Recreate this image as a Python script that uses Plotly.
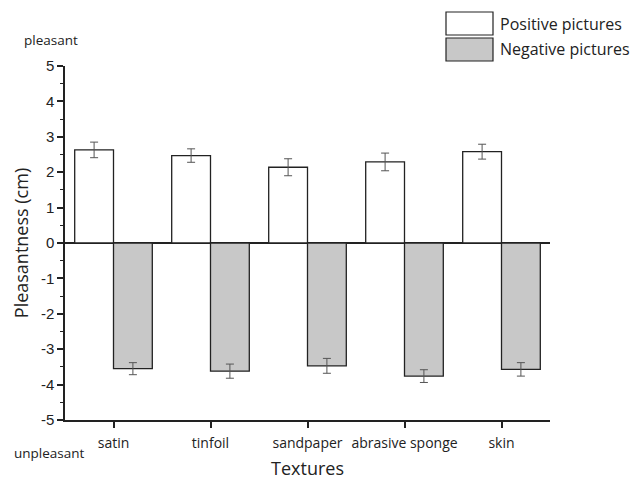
import plotly.graph_objects as go

textures = ["satin", "tinfoil", "sandpaper", "abrasive sponge", "skin"]
positive = [2.63, 2.47, 2.14, 2.29, 2.58]
positive_err = [0.22, 0.19, 0.24, 0.25, 0.21]
negative = [-3.55, -3.62, -3.47, -3.76, -3.57]
negative_err = [0.17, 0.2, 0.21, 0.18, 0.19]
series_names = ["Positive pictures", "Negative pictures"]
colors = ["#ffffff", "#c8c8c8"]
y_tick_vals = [5, 4, 3, 2, 1, 0, -1, -2, -3, -4, -5]
y_tick_text = ["5", "4", "3", "2", "1", "0", "-1", "-2", "-3", "-4", "-5"]

FONT = "Open Sans"
NUMFONT = "Liberation Sans"

fig = go.Figure()
for name, vals, errs, col in [(series_names[0], positive, positive_err, colors[0]),
                              (series_names[1], negative, negative_err, colors[1])]:
    fig.add_trace(go.Bar(
        x=textures, y=vals, name=name,
        marker=dict(color=col, line=dict(color="#222222", width=1.3)),
        error_y=dict(type="data", array=errs, visible=True, color="#555555",
                     thickness=1, width=4),
        showlegend=False,
    ))

fig.update_layout(
    width=644, height=482,
    margin=dict(l=65, r=94, t=66, b=62, autoexpand=False),
    paper_bgcolor="white", plot_bgcolor="white",
    barmode="group", bargap=0.2, bargroupgap=0,
    font=dict(family=FONT, size=14, color="#222222"),
    xaxis=dict(
        range=[-0.5, 4.5], showline=True, linecolor="#222222", linewidth=1.5,
        ticks="outside", ticklen=6, tickwidth=1.5, tickcolor="#222222",
        showgrid=False, zeroline=False, automargin=False,
        tickfont=dict(size=14), ticklabelstandoff=3,
        title=dict(text="Textures", font=dict(size=18), standoff=12),
    ),
    yaxis=dict(
        range=[-5, 5], tickvals=y_tick_vals, ticktext=y_tick_text,
        showline=True, linecolor="#222222", linewidth=1.5,
        ticks="outside", ticklen=6, tickwidth=1.5, tickcolor="#222222",
        minor=dict(dtick=0.5, ticks="outside", ticklen=3, tickcolor="#222222", tickwidth=1),
        showgrid=False, zeroline=True, zerolinecolor="#222222", zerolinewidth=1.5,
        automargin=False,
        tickfont=dict(size=15, family=NUMFONT),
        title=dict(text="Pleasantness (cm)", font=dict(size=18), standoff=8),
    ),
)

# extreme labels
fig.add_annotation(text="pleasant", xref="paper", yref="paper", x=-0.028, y=1.073,
                   showarrow=False, font=dict(size=13.5), xanchor="center", yanchor="middle")
fig.add_annotation(text="unpleasant", xref="paper", yref="paper", x=-0.032, y=-0.093,
                   showarrow=False, font=dict(size=13.5), xanchor="center", yanchor="middle")

# custom legend
leg = [(12, 35), (38, 61)]
for (y0, y1), name, col in zip(leg, series_names, colors):
    fig.add_shape(type="rect", xref="paper", yref="paper",
                  x0=(446 - 65) / 485, x1=(493 - 65) / 485,
                  y0=(420 - y1) / 354, y1=(420 - y0) / 354,
                  fillcolor=col, line=dict(color="#222222", width=1.2))
    fig.add_annotation(text=name, xref="paper", yref="paper",
                       x=(498 - 65) / 485, y=(420 - (y0 + y1) / 2) / 354,
                       showarrow=False, xanchor="left", yanchor="middle",
                       font=dict(size=16))

html = fig.to_html(full_html=True, include_plotlyjs=True,
                   config={"displayModeBar": False})
html = html.replace("<body>", '<body style="margin:0;padding:0;">', 1)
with open("out.html", "w", encoding="utf-8") as f:
    f.write(html)
